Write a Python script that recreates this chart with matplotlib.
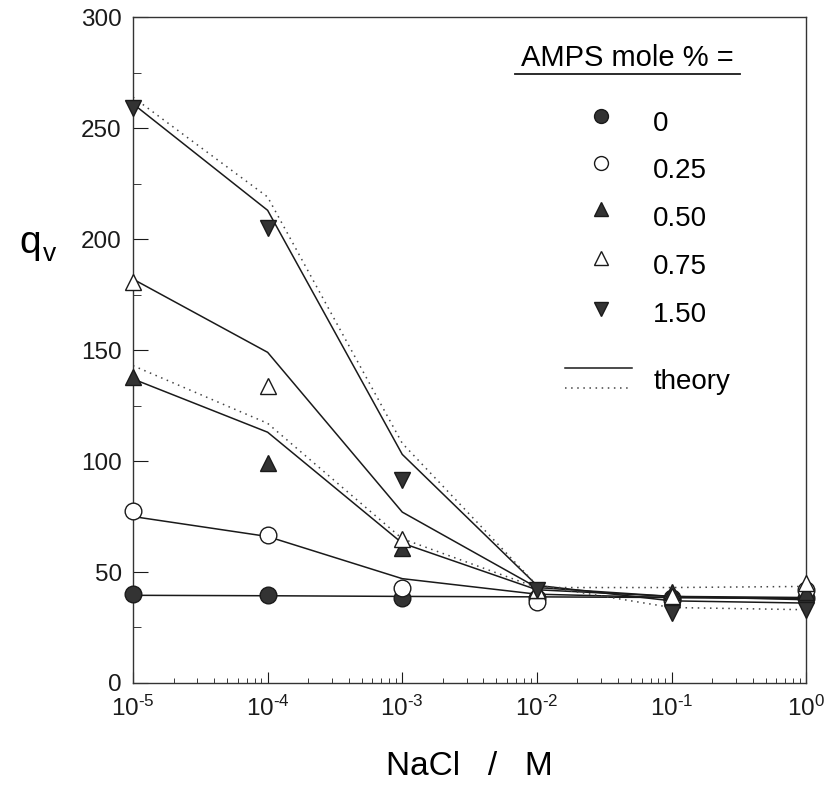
"""
Swelling ratio q_v of AMPS gels against NaCl concentration,
measured points with the theory curves (solid and dotted).
"""
import matplotlib
matplotlib.use('Agg')
import matplotlib.pyplot as plt
from matplotlib.ticker import LogLocator, MultipleLocator, FixedLocator, NullFormatter

plt.rcParams['font.family'] = ['Liberation Sans', 'DejaVu Sans']
plt.rcParams['mathtext.fontset'] = 'custom'
plt.rcParams['mathtext.rm'] = 'Liberation Sans'
plt.rcParams['mathtext.it'] = 'Liberation Sans'

# NaCl concentration (M)
nacl = [1e-5, 1e-4, 1e-3, 1e-2, 1e-1, 1e0]
exponents = ['-5', '-4', '-3', '-2', '-1', '0']

# measured q_v for each AMPS mole %
q_0 = [40, 39.5, 38.5, 38.5, 38.5, 38.5]
q_025 = [77.5, 66.7, 43, 36.5, 37.5, 42]
q_050 = [138, 99, 61, 42, 41, 41]
q_075 = [180.5, 134, 65, 42, 39, 45]
q_150 = [259, 205, 91.5, 42, 31.5, 33]

# theory, solid curves
th_0 = [39.5, 39.3, 39, 38.8, 38.5, 38.3]
th_025 = [75, 66, 47, 40, 38.5, 38]
th_050 = [137, 113, 63, 42, 39, 38.5]
th_075 = [182, 149, 77, 43, 39, 37.5]
th_150 = [261, 213, 103, 44, 37, 36]

# theory, dotted curves
thd_050 = [143, 117, 65, 43, 43, 43.5]
thd_150 = [264, 219, 108, 44, 34, 33]

legend_labels = ['0', '0.25', '0.50', '0.75', '1.50']

fig = plt.figure(figsize=(8.26, 7.85), dpi=100)
ax = fig.add_axes([0.161, 0.130, 0.815, 0.848])

ink = '#1a1a1a'
fill = '#333333'

for th in [th_0, th_025, th_050, th_075, th_150]:
    ax.plot(nacl, th, '-', color=ink, lw=1.1, zorder=2)
for th in [thd_050, thd_150]:
    ax.plot(nacl, th, color='#444444', lw=1.1, ls=(0, (1, 3)), zorder=2)

styles = [
    ('o', fill, q_0),
    ('o', 'white', q_025),
    ('^', fill, q_050),
    ('^', 'white', q_075),
    ('v', fill, q_150),
]
for mk, fc, q in styles:
    ax.plot(nacl, q, ls='none', marker=mk, ms=12, mfc=fc, mec=ink,
            mew=1.0, zorder=3, clip_on=False)

ax.set_xscale('log')
ax.set_xlim(1e-5, 1e0)
ax.set_ylim(0, 300)

ax.xaxis.set_major_locator(FixedLocator(nacl))
ax.xaxis.set_minor_locator(LogLocator(base=10, subs=range(2, 10)))
ax.xaxis.set_minor_formatter(NullFormatter())
# plain hyphen in the exponent, as in the printed figure
ax.set_xticklabels([r'$10^{\text{%s}}$' % e for e in exponents])
ax.yaxis.set_major_locator(MultipleLocator(50))
ax.yaxis.set_minor_locator(MultipleLocator(25))

ax.tick_params(axis='both', which='both', direction='in', top=False,
               right=False, labelsize=17.5, colors=ink)
ax.tick_params(axis='y', which='major', length=11, pad=8)
ax.tick_params(axis='y', which='minor', length=6)
ax.tick_params(axis='x', which='major', length=8, pad=9)
ax.tick_params(axis='x', which='minor', length=3.5)
for sp in ax.spines.values():
    sp.set_linewidth(1.0)
    sp.set_color('#333333')

ax.set_xlabel('NaCl   /   M', fontsize=24, labelpad=22)
fig.text(0.024, 0.690, 'q', fontsize=28, va='center', ha='left')
fig.text(0.052, 0.676, 'v', fontsize=19, va='center', ha='left')


def axpt(px, py):
    # pixel position in the figure -> axes fraction
    return (px - 133) / 673.0, (683 - py) / 666.0


# hand-drawn key in the upper right
tx, ty = axpt(627, 58)
ax.text(tx, ty, 'AMPS mole % =', transform=ax.transAxes, fontsize=21,
        ha='center', va='center')
x0, yu = axpt(515, 74)
x1, _ = axpt(740, 74)
ax.plot([x0, x1], [yu, yu], color=ink, lw=1.3, transform=ax.transAxes)

label_y = [124, 171, 219, 267, 315]
marker_y = [116, 163, 209, 258, 309]
for (mk, fc, _), lab, ly, my in zip(styles, legend_labels, label_y, marker_y):
    mx, myy = axpt(601, my)
    ax.plot([mx], [myy], ls='none', marker=mk, ms=10, mfc=fc, mec=ink,
            mew=1.0, transform=ax.transAxes)
    lx, lyy = axpt(653, ly)
    ax.text(lx, lyy, lab, transform=ax.transAxes, fontsize=20,
            ha='left', va='center')

sx0, sy = axpt(565, 368)
sx1, _ = axpt(632, 368)
ax.plot([sx0, sx1], [sy, sy], '-', color=ink, lw=1.1, transform=ax.transAxes)
_, dy = axpt(565, 388)
ax.plot([sx0, sx1], [dy, dy], color='#444444', lw=1.1, ls=(0, (1, 3)),
        transform=ax.transAxes)
lx, lyy = axpt(653, 382)
ax.text(lx, lyy, 'theory', transform=ax.transAxes, fontsize=20,
        ha='left', va='center')

fig.savefig('out.png', dpi=100)
